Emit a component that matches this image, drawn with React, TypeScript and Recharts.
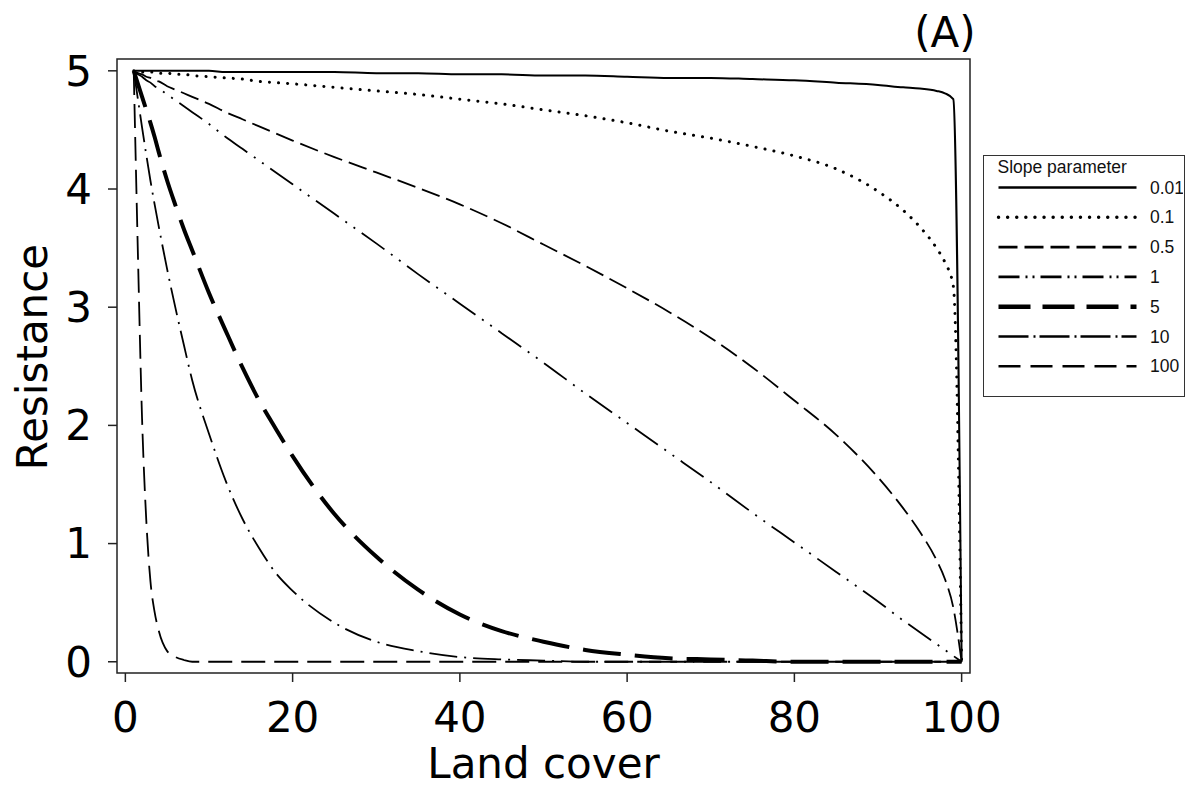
import { LineChart, Line, XAxis, YAxis, ReferenceArea, Legend, Label } from 'recharts';

const landCover = [1, 1.5, 2, 2.5, 3, 3.5, 4, 5, 6, 7, 8, 10, 12, 14, 16, 18, 20, 25, 30, 35, 40, 45, 50, 55, 60, 65, 70, 75, 80, 85, 90, 93, 95, 97, 98, 99, 100];

// resistance for each slope parameter
const slope001 = [5.0, 5.0, 5.0, 5.0, 5.0, 5.0, 5.0, 5.0, 5.0, 5.0, 5.0, 5.0, 4.99, 4.99, 4.99, 4.99, 4.99, 4.99, 4.98, 4.98, 4.97, 4.97, 4.96, 4.96, 4.95, 4.94, 4.94, 4.93, 4.92, 4.9, 4.88, 4.86, 4.85, 4.83, 4.81, 4.76, 0];
const slope01 = [5.0, 5.0, 4.99, 4.99, 4.99, 4.99, 4.98, 4.98, 4.97, 4.97, 4.96, 4.95, 4.94, 4.93, 4.91, 4.9, 4.89, 4.86, 4.83, 4.8, 4.76, 4.72, 4.67, 4.62, 4.56, 4.49, 4.43, 4.36, 4.28, 4.17, 3.98, 3.82, 3.68, 3.5, 3.38, 3.18, 0];
const slope05 = [5.0, 4.98, 4.97, 4.95, 4.94, 4.92, 4.91, 4.87, 4.84, 4.81, 4.78, 4.72, 4.65, 4.59, 4.53, 4.47, 4.41, 4.27, 4.14, 4.01, 3.87, 3.71, 3.53, 3.35, 3.16, 2.96, 2.74, 2.49, 2.21, 1.92, 1.56, 1.3, 1.1, 0.86, 0.7, 0.46, 0];
const slope1 = [5.0, 4.97, 4.95, 4.92, 4.9, 4.87, 4.85, 4.8, 4.75, 4.7, 4.65, 4.55, 4.44, 4.34, 4.24, 4.14, 4.04, 3.79, 3.54, 3.28, 3.03, 2.78, 2.53, 2.27, 2.02, 1.77, 1.52, 1.26, 1.01, 0.76, 0.51, 0.35, 0.25, 0.15, 0.1, 0.05, 0];
const slope5 = [5.0, 4.89, 4.78, 4.67, 4.56, 4.44, 4.31, 4.07, 3.86, 3.66, 3.48, 3.12, 2.8, 2.49, 2.21, 1.97, 1.74, 1.25, 0.89, 0.61, 0.4, 0.26, 0.17, 0.1, 0.06, 0.03, 0.02, 0.01, 0, 0, 0, 0, 0, 0, 0, 0, 0];
const slope10 = [5.0, 4.76, 4.52, 4.29, 4.07, 3.87, 3.68, 3.32, 2.99, 2.68, 2.38, 1.93, 1.53, 1.21, 0.96, 0.75, 0.6, 0.33, 0.17, 0.09, 0.04, 0.02, 0.01, 0, 0, 0, 0, 0, 0, 0, 0, 0, 0, 0, 0, 0, 0];
const slope100 = [5.0, 3.45, 2.05, 1.2, 0.68, 0.42, 0.26, 0.09, 0.04, 0.015, 0, 0, 0, 0, 0, 0, 0, 0, 0, 0, 0, 0, 0, 0, 0, 0, 0, 0, 0, 0, 0, 0, 0, 0, 0, 0, 0];

const slopeLabels = ['0.01', '0.1', '0.5', '1', '5', '10', '100'];
const xTicks = [0, 20, 40, 60, 80, 100];
const yTicks = [0, 1, 2, 3, 4, 5];

const seriesValues = [slope001, slope01, slope05, slope1, slope5, slope10, slope100];

// line looks: plot dash pattern, legend dash pattern
const styles = [
  { width: 2, legendWidth: 2.6, dash: undefined, legendDash: undefined, cap: 'butt' },
  { width: 3, legendWidth: 3.4, dash: '0.1 9', legendDash: '0.1 9', cap: 'round' },
  { width: 1.8, legendWidth: 2.6, dash: '19 7', legendDash: '19 7', cap: 'butt' },
  { width: 1.8, legendWidth: 2.6, dash: '28 8 2 8 2 8', legendDash: '21 6 2 5 2 6', cap: 'butt' },
  { width: 4, legendWidth: 4.4, dash: '38 14', legendDash: '32 12', cap: 'butt' },
  { width: 1.8, legendWidth: 2.6, dash: '28 7 2 7', legendDash: '30 5 2 4', cap: 'butt' },
  { width: 1.8, legendWidth: 2.6, dash: '24 9', legendDash: '22 10', cap: 'butt' },
];

const data = landCover.map((x, i) => {
  const row: Record<string, number> = { landCover: x };
  seriesValues.forEach((vals, j) => {
    row[`s${j}`] = vals[i];
  });
  return row;
});

const font = '"DejaVu Sans", Verdana, sans-serif';
const legendFont = '"Liberation Sans", Arial, sans-serif';

const SlopeLegend = () => (
  <div
    style={{
      width: 202,
      height: 242,
      border: '1.5px solid #333',
      boxSizing: 'border-box',
      background: '#fff',
    }}>
    <svg width={199} height={239} style={{ display: 'block' }}>
      <text x={13.5} y={17} fontFamily={legendFont} fontSize={17.5} fill='#111'>
        Slope parameter
      </text>
      {slopeLabels.map((lab, i) => {
        const y = 31.5 + i * 29.8;
        const s = styles[i];
        return (
          <g key={lab}>
            <line
              x1={14.5}
              x2={152.5}
              y1={y}
              y2={y}
              stroke='#000'
              strokeWidth={s.legendWidth}
              strokeDasharray={s.legendDash}
              strokeLinecap={s.cap as any}
            />
            <text x={166} y={y} dy='0.35em' fontFamily={legendFont} fontSize={17.5} fill='#111'>
              {lab}
            </text>
          </g>
        );
      })}
    </svg>
  </div>
);

export default function App() {
  return (
    <LineChart width={1189} height={784} data={data} margin={{ top: 51, right: 227, left: 0, bottom: 0 }}>
      <XAxis
        dataKey='landCover'
        type='number'
        domain={[-1, 101]}
        allowDataOverflow
        ticks={xTicks}
        interval={0}
        axisLine={false}
        tickSize={9}
        tickMargin={20}
        height={119}
        tickLine={{ stroke: '#222', strokeWidth: 1.5 }}
        tick={{ fontSize: 42, fontFamily: font, fill: '#000' }}>
        <Label value='Land cover' position='insideBottom' offset={14} style={{ fontSize: 42, fontFamily: font, fill: '#000' }} />
      </XAxis>
      <YAxis
        type='number'
        domain={[-0.095, 5.1]}
        allowDataOverflow
        ticks={yTicks}
        interval={0}
        axisLine={false}
        width={109}
        tickSize={9}
        tickMargin={16}
        tickLine={{ stroke: '#222', strokeWidth: 1.5 }}
        tick={{ fontSize: 42, fontFamily: font, fill: '#000' }}>
        <Label
          content={(props: any) => {
            const vb = props.viewBox || { x: 0, y: 51, width: 109, height: 614 };
            const cx = vb.x + 39;
            const cy = vb.y + vb.height / 2 - 9;
            return (
              <text x={cx} y={cy} transform={`rotate(-90, ${cx}, ${cy})`} textAnchor='middle' fontSize={42} fontFamily={font} fill='#000'>
                Resistance
              </text>
            );
          }}
        />
      </YAxis>
      <ReferenceArea x1={-1} x2={101} y1={-0.095} y2={5.1} fill='none' stroke='#222' strokeWidth={1.5} ifOverflow='visible'>
        <Label
          content={(props: any) => {
            const vb = props.viewBox || { x: 109, y: 51, width: 853, height: 614 };
            return (
              <text x={vb.x + vb.width - 25} y={vb.y - 12} textAnchor='middle' fontSize={42} fontFamily={font} fill='#000'>
                (A)
              </text>
            );
          }}
        />
      </ReferenceArea>
      {styles.map((s, j) => (
        <Line
          key={j}
          dataKey={`s${j}`}
          name={slopeLabels[j]}
          type='monotone'
          stroke='#000'
          strokeWidth={s.width}
          strokeDasharray={s.dash}
          strokeLinecap={s.cap as any}
          dot={false}
          activeDot={false}
          isAnimationActive={false}
        />
      ))}
      <Legend
        layout='vertical'
        align='center'
        verticalAlign='middle'
        wrapperStyle={{ left: 975, top: 147, width: 202, height: 242 }}
        content={<SlopeLegend />}
      />
    </LineChart>
  );
}
